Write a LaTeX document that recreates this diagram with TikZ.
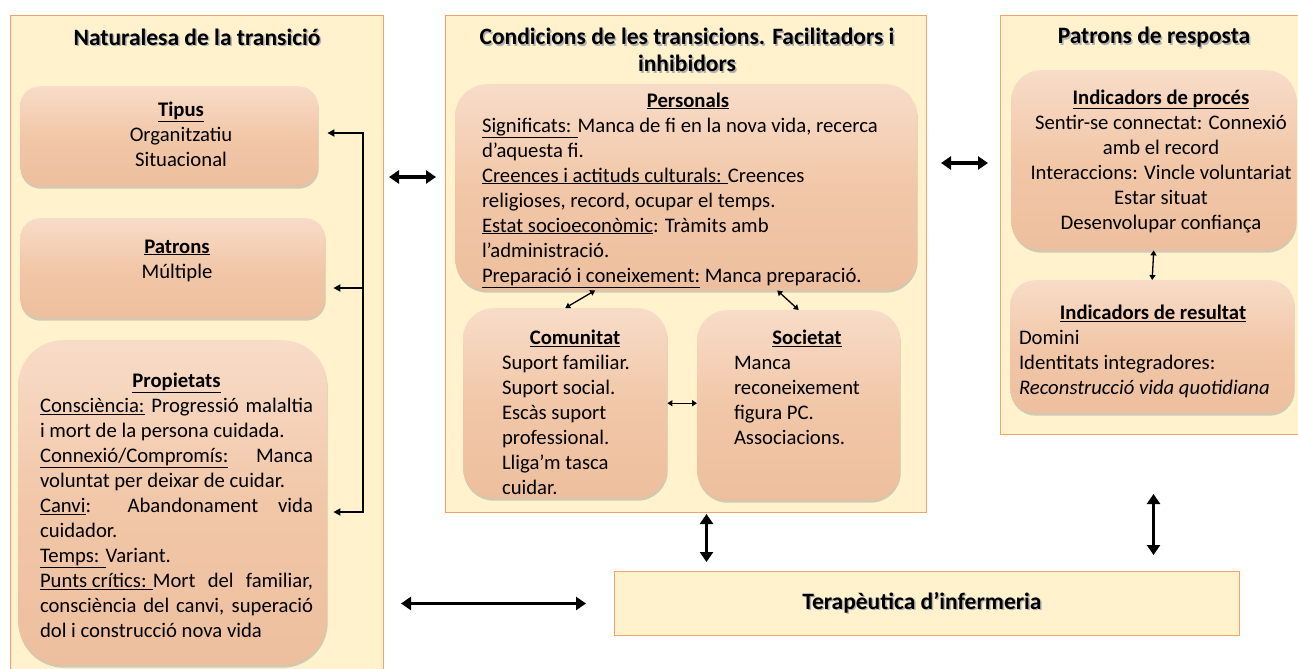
\documentclass[tikz,border=0pt]{standalone}
\usepackage{fontspec}
\setmainfont{Carlito}
\usetikzlibrary{arrows.meta, shadows}
\tikzset{>=Triangle}
\definecolor{fons}{HTML}{FFF2CC}
\definecolor{vora}{HTML}{F4A46A}
\definecolor{pressec}{HTML}{F1C7A8}
\definecolor{pressecclar}{HTML}{F8DCC8}
\definecolor{pressecfosc}{HTML}{EDBF9E}
\newcommand*{\ombra}[1]{\makebox[0pt][l]{\hspace{1.5pt}\raisebox{-1.5pt}{\color{black!30}#1}}#1}
\newcommand*{\just}[1]{\makebox[\linewidth][s]{#1}}
\newcommand*{\tit}[1]{\underline{\textbf{#1}}}

\begin{document}
\begin{tikzpicture}[x=1pt, y=-1pt,
    panell/.style={draw=vora, fill=fons, line width=1pt, anchor=north west, inner sep=0pt},
    caixa/.style={anchor=north west, inner sep=0pt, top color=pressecclar, bottom color=pressecfosc, middle color=pressec,
        drop shadow={shadow xshift=0.5pt, shadow yshift=-2.5pt, fill=black!45, opacity=0.4}},
    titol/.style={font=\fontsize{23.5}{27}\selectfont\bfseries, align=flush center},
    cos/.style={font=\fontsize{20.7}{25}\selectfont, inner sep=0pt},
    gruixuda/.style={line width=3.2pt, {Triangle[length=10pt,width=13pt]}-{Triangle[length=10pt,width=13pt]}},
    prima/.style={line width=1.3pt, {Triangle[length=5pt,width=6pt]}-{Triangle[length=5pt,width=6pt]}},
    claudator/.style={line width=1.8pt}]
    \useasboundingbox (0,0) rectangle (1298,669);

    % tres blocs
    \node[panell, minimum width=373, minimum height=680] (natura) at (10,15) {};
    \node[panell, minimum width=481, minimum height=497] (cond) at (445,15) {};
    \node[panell, minimum width=306, minimum height=419] (resp) at (1000,15) {};
    \node[panell, titol, minimum width=625, minimum height=64] (ter) at (614,571) {\ombra{Terapèutica d’infermeria}\hspace*{10pt}};

    \node[titol] (tnat) at (197,38) {\ombra{Naturalesa de la transició}};
    \node[titol] (tcond) at (687,51) {\ombra{Condicions de les transicions. Facilitadors i}\\\ombra{inhibidors}};
    \node[titol] (tresp) at (1154,38) {\ombra{Patrons de resposta}};

    \node[caixa, rounded corners=20pt, minimum width=298, minimum height=100] (tipus) at (20,86) {};
    \node[caixa, rounded corners=20pt, minimum width=305, minimum height=100] (patrons) at (20,218) {};
    \node[caixa, rounded corners=45pt, minimum width=309, minimum height=325] (prop) at (18,340) {};
    \node[caixa, rounded corners=32pt, minimum width=462, minimum height=206] (pers) at (455,84) {};
    \node[caixa, rounded corners=30pt, minimum width=204, minimum height=190] (comu) at (463,308) {};
    \node[caixa, rounded corners=30pt, minimum width=203, minimum height=190] (soc) at (697,310) {};
    \node[caixa, rounded corners=30pt, minimum width=285, minimum height=180] (proces) at (1011,70) {};
    \node[caixa, rounded corners=25pt, minimum width=284, minimum height=133] (resul) at (1010,280) {};

    \node[cos, align=flush center] (ttipus) at (181,134) {\tit{Tipus}\\Organitzatiu\\Situacional};
    \node[cos, align=flush center] (tpatrons) at (177,260.5) {\tit{Patrons}\\Múltiple};
    \node[cos, text width=273, align=flush left] (tprop) at (176.5,505) {\makebox[\linewidth]{\tit{Propietats}}\\
        \just{\underline{Consciència:} Progressió malaltia}\\
        i mort de la persona cuidada.\\
        \just{\underline{Connexió/Compromís:} Manca}\\
        voluntat per deixar de cuidar.\\
        \just{\underline{Canvi}: Abandonament vida}\\
        cuidador.\\
        \underline{Temps: }Variant.\\
        \just{\underline{Punts crítics: }Mort del familiar,}\\
        \just{consciència del canvi, superació}\\
        dol i construcció nova vida};
    \node[cos, text width=412, align=flush left] (tpers) at (688,190) {\makebox[\linewidth]{\tit{Personals}}\\
        \underline{Significats: }Manca de fi en la nova vida, recerca\\
        d’aquesta fi.\\
        \underline{Creences i actituds culturals: }Creences\\
        religioses, record, ocupar el temps.\\
        \underline{Estat socioeconòmic}: Tràmits amb\\
        l’administració.\\
        \underline{Preparació i coneixement:} Manca preparació.};
    \node[cos, text width=146, align=flush left] (tcomu) at (575,412) {\makebox[\linewidth]{\tit{Comunitat}}\\
        Suport familiar.\\Suport social.\\Escàs suport\\professional.\\Lliga’m tasca\\cuidar.};
    \node[cos, text width=146, align=flush left] (tsoc) at (807,387) {\makebox[\linewidth]{\tit{Societat}}\\
        Manca\\reconeixement\\figura PC.\\Associacions.};
    \node[cos, align=flush center] (tproc) at (1161,161) {\tit{Indicadors de procés}\\Sentir-se connectat: Connexió\\amb el record\\
        Interaccions: Vincle voluntariat\\Estar situat\\Desenvolupar confiança};
    \node[cos, text width=268, align=flush left] (tres) at (1153,351.5) {\makebox[\linewidth]{\tit{Indicadors de resultat}}\\
        Domini\\Identitats integradores:\\\textit{Reconstrucció vida quotidiana}};

    % claudator de l'esquerra
    \coordinate (c1) at (363,133);
    \coordinate (c2) at (363,288);
    \coordinate (c3) at (363,512);
    \draw[claudator, {Triangle[length=7pt,width=7pt]}-{Triangle[length=7pt,width=7pt]}]
        ([xshift=9pt]tipus.east |- c1) -- (c1) -- (c3) -- ([xshift=6pt]prop.east |- c3);
    \draw[claudator, -{Triangle[length=7pt,width=7pt]}] (c2) -- ([xshift=8pt]patrons.east |- c2);

    \draw[gruixuda] ([xshift=5pt, yshift=-162pt]natura.north east) -- ([xshift=-9pt, yshift=-162pt]cond.north west);
    \draw[gruixuda] ([xshift=14pt, yshift=-148pt]cond.north east) -- ([xshift=-12pt, yshift=-148pt]resp.north west);
    \draw[gruixuda, line width=3.8pt] ([xshift=17pt]natura.east |- ter.west) -- ([xshift=-28pt]ter.west);
    \draw[gruixuda, shorten <=1pt, shorten >=9pt] ([xshift=20.5pt]cond.south) coordinate (v1) -- (v1 |- ter.north);
    \draw[gruixuda, shorten <=59pt, shorten >=16pt] (resp.south) -- (resp.south |- ter.north);

    \draw[prima] (proces.south) -- (resul.north);
    \draw[prima] (comu.north) -- ([xshift=-91pt]pers.south);
    \draw[prima] ([xshift=91pt]pers.south) -- (soc.north);
    \draw[prima] (comu.east) -- (comu.east -| soc.west);
\end{tikzpicture}
\end{document}
